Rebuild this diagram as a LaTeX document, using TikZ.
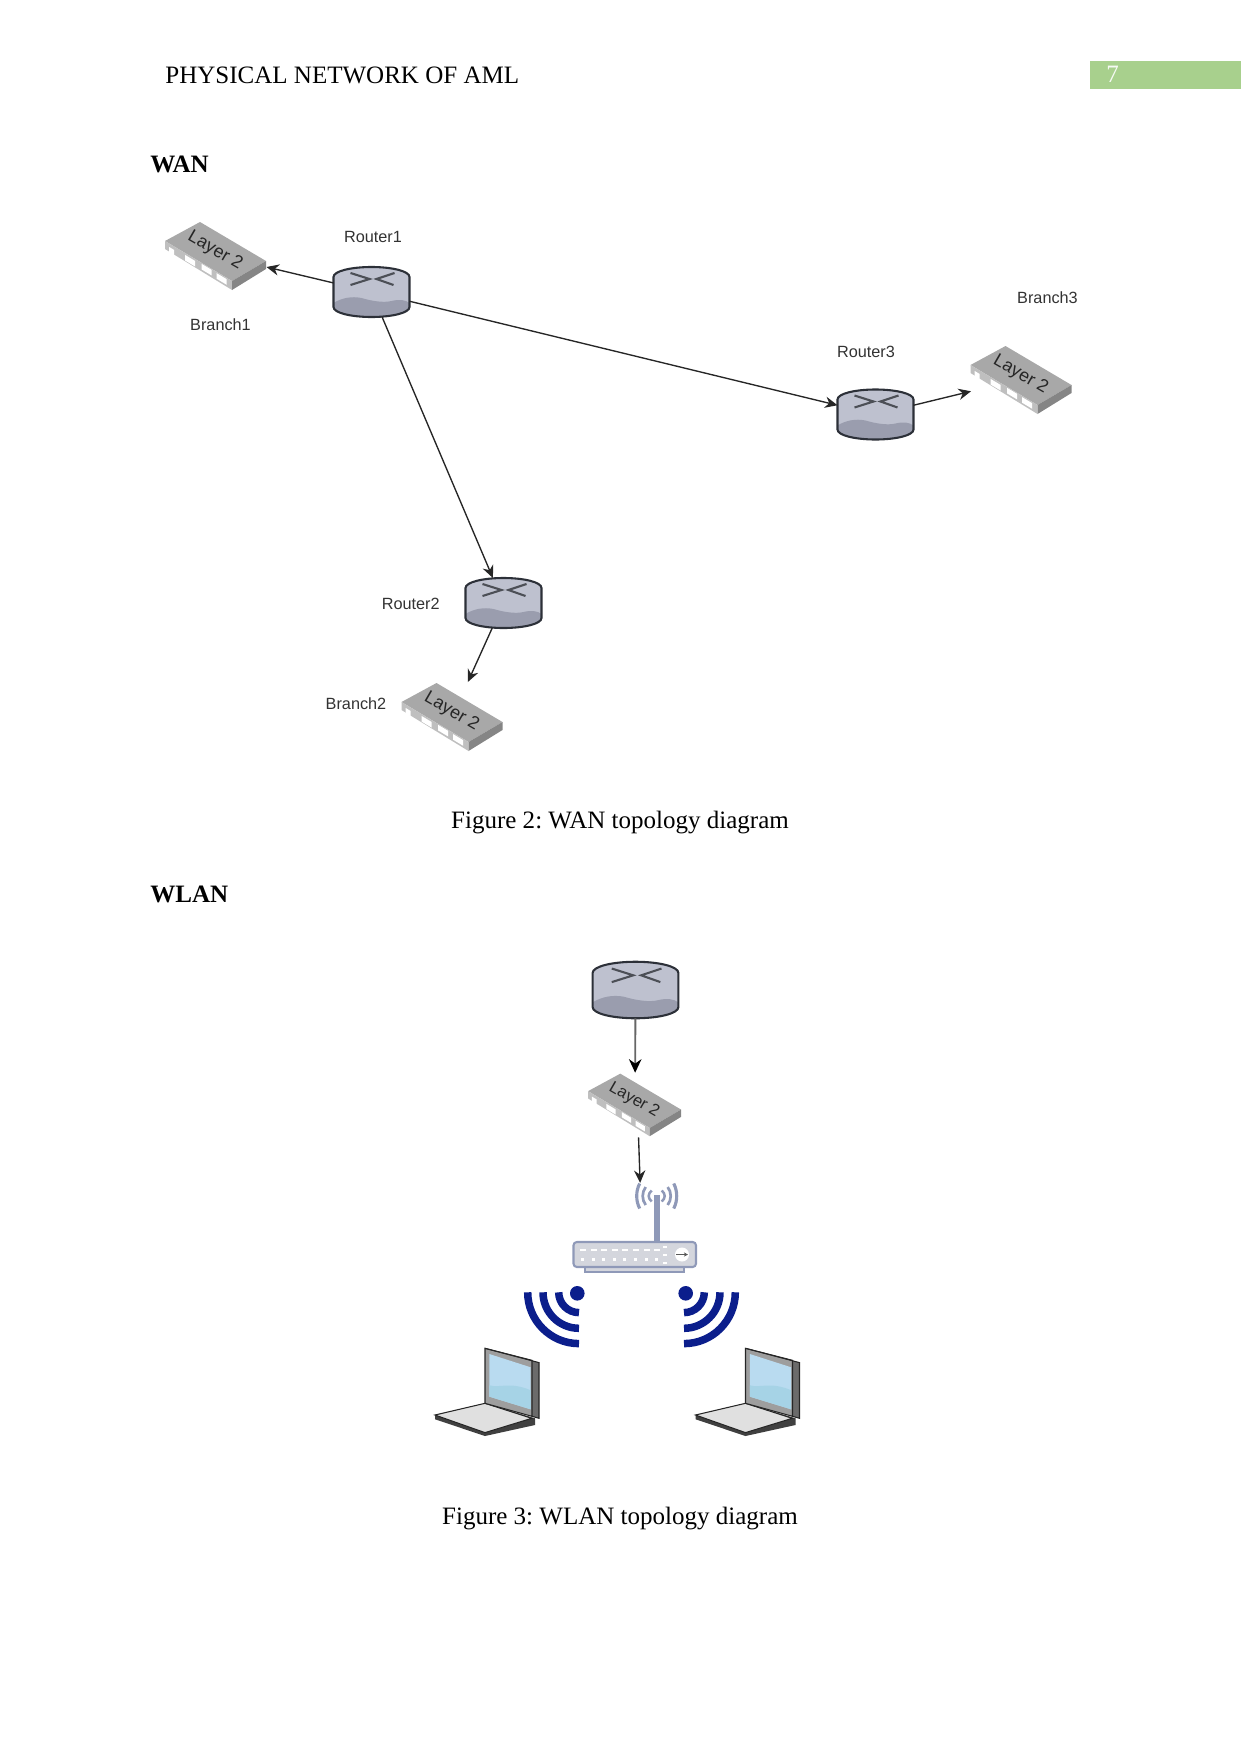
\documentclass[tikz,border=0pt]{standalone}
\usepackage{fontspec}
\usetikzlibrary{arrows.meta}
\setmainfont{Liberation Serif}
\newfontfamily\labelfont{Liberation Sans}
\frenchspacing
\definecolor{routerbody}{HTML}{BEC1CF}
\definecolor{routerbase}{HTML}{9A9DAE}
\definecolor{routerline}{HTML}{2C3038}
\definecolor{apline}{HTML}{8F99B8}
\definecolor{apfill}{HTML}{D4D6DD}
\definecolor{signal}{HTML}{0B1E8C}
\definecolor{pagegreen}{HTML}{A8D08D}
\definecolor{screenhi}{HTML}{B9DBF0}
\definecolor{screenlo}{HTML}{A6D3E6}
\tikzset{
  x=0.4797pt, y=-0.4797pt,
  iconbox/.style={inner sep=0pt, outer sep=0pt, minimum width=#1},
  routerbox/.style={iconbox=36.46pt, minimum height=24pt},
  bigrouterbox/.style={iconbox=41.25pt, minimum height=27.3pt},
  switchbox/.style={iconbox=48.45pt, minimum height=32.6pt},
  smallswitchbox/.style={iconbox=44.6pt, minimum height=30pt},
  link/.style={draw=black!85, line width=0.65pt, -{Stealth[length=6pt,width=5.4pt]}},
  devlabel/.style={font=\labelfont\fontsize{7.8}{9}\selectfont, text=black!80, inner sep=0pt},
  pagetext/.style={font=\fontsize{12}{14}\selectfont, inner sep=0pt},
  heading/.style={font=\bfseries\fontsize{12}{14}\selectfont, inner sep=0pt, anchor=base west},
  caption/.style={font=\fontsize{12}{14}\selectfont, inner sep=0pt, anchor=base},
  pics/routericon/.style={code={
    \fill[routerbody] (-38,-15) .. controls (-38,-21) and (-20,-25) .. (0,-25)
      .. controls (20,-25) and (38,-21) .. (38,-15) -- (38,15)
      .. controls (38,21) and (20,25) .. (0,25)
      .. controls (-20,25) and (-38,21) .. (-38,15) -- cycle;
    \fill[routerbase] (-38,11) .. controls (-30,6) and (-20,4) .. (-10,6)
      .. controls (0,9) and (12,11) .. (20,9) .. controls (28,7) and (34,8) .. (38,11)
      -- (38,15) .. controls (38,21) and (20,25) .. (0,25)
      .. controls (-20,25) and (-38,21) .. (-38,15) -- cycle;
    \draw[routerline, line width=1pt] (-38,-15) .. controls (-38,-21) and (-20,-25) .. (0,-25)
      .. controls (20,-25) and (38,-21) .. (38,-15) -- (38,15)
      .. controls (38,21) and (20,25) .. (0,25)
      .. controls (-20,25) and (-38,21) .. (-38,15) -- cycle;
    \draw[routerline!85, line width=1pt] (-21,-19) -- (-2,-13) -- (-21,-7);
    \draw[routerline!85, line width=1pt] (23,-19) -- (5,-13) -- (22,-7);
  }},
  pics/switchicon/.style={code={
    \fill[black!34] (-16,-33) -- (-51,-14) -- (16,26) -- (50,6) -- cycle;
    \fill[black!25] (-51,-14) -- (16,26) -- (16,35) -- (-51,-6) -- cycle;
    \fill[black!48] (16,26) -- (50,6) -- (50,14) -- (16,35) -- cycle;
    \foreach \px/\py/\pw in {-44.3/-3.7/2.5, -26/5.7/5, -9.3/14.7/5, 5.7/24/5} {
      \fill[white] (\px-\pw,\py-2.8-.6*\pw) -- (\px+\pw,\py-2.8+.6*\pw)
        -- (\px+\pw,\py+2.8+.6*\pw) -- (\px-\pw,\py+2.8-.6*\pw) -- cycle;
    }
    \node[font=\labelfont\fontsize{8.6}{9}\selectfont, text=black!85, rotate=-30, inner sep=0pt] at (-1,-4) {Layer 2};
  }},
  pics/laptopicon/.style={code={
    % base
    \fill[black!75] (-50,21.7) -- (0,10) -- (50,25) -- (50,31.7) -- (0,42.7) -- (-50,26) -- cycle;
    \fill[black!12, draw=black!85, line width=0.5pt] (-50,21.7) -- (0,10) -- (46.7,25) -- (0,39.3) -- cycle;
    % lid
    \fill[black!58] (38,-35) -- (54,-30.7) -- (54,25) -- (46,23) -- cycle;
    \fill[black!38, draw=black!85, line width=0.5pt] (0,-45) -- (47,-33) -- (47,23) -- (0,10) -- cycle;
    \draw[black!85, line width=0.5pt] (0,-45) -- (54,-30.7) -- (54,25) -- (47,23);
    % screen
    \fill[screenhi] (4.3,-39.3) -- (45.7,-26) -- (45.7,16) -- (4.3,3.3) -- cycle;
    \fill[screenlo] (4.3,-8) .. controls (15,-5) and (25,-12) .. (45.7,-3)
      -- (45.7,16) -- (4.3,3.3) -- cycle;
  }},
  pics/signalicon/.style={code={
    \fill[signal] (-1.7,1) circle[radius=7.3];
    \foreach \r in {20.3,36,51.3} {
      \pgfmathsetmacro\k{0.5523*\r}
      \draw[signal, line width=3.6pt] (-\r,0) .. controls (-\r,\k) and (-\k,\r) .. (0,\r);
    }
  }},
}
\begin{document}
\begin{tikzpicture}
\useasboundingbox (0,0) rectangle (1241,1754);

% running head
\fill[pagegreen] (1090,61) rectangle (1241,89);
\node[pagetext, anchor=base west, text=white!90!pagegreen] (pagenum) at (1106,83) {7};
\node[pagetext, anchor=base west] (runhead) at (165,84) {PHYSICAL NETWORK OF AML};

% WAN section
\node[heading] (wanhead) at (150,173) {WAN};

\node[routerbox] (r1) at (371.5,292) {};
\node[routerbox] (r2) at (503.5,603) {};
\node[routerbox] (r3) at (875.5,414.5) {};
\node[switchbox] (s1) at (216,255) {};
\node[switchbox] (s2) at (452.5,716) {};
\node[switchbox] (s3) at (1021.5,379) {};

\foreach \n in {r1,r2,r3} \pic at (\n) {routericon};
\foreach \n in {s1,s2,s3} \pic at (\n) {switchicon};

\draw[link] (r1) -- (s1);
\draw[link] (r1) -- (r3);
\draw[link] (r1) -- (r2);
\draw[link] (r2) -- (s2);
\draw[link] (r3) -- (s3);

\node[devlabel] (lr1) at (373,237) {Router1};
\node[devlabel] (lb1) at (220.5,325) {Branch1};
\node[devlabel] (lr3) at (866,351.5) {Router3};
\node[devlabel] (lb3) at (1047.5,297.6) {Branch3};
\node[devlabel] (lr2) at (410.7,604) {Router2};
\node[devlabel] (lb2) at (356,704) {Branch2};

\node[caption] (cap2) at (620,828) {Figure 2: WAN topology diagram};

% WLAN section
\node[heading] (wlanhead) at (150,902) {WLAN};

\node[bigrouterbox] (r4) at (635.5,990) {};
\node[smallswitchbox] (s4) at (635,1104) {};
\node[iconbox=59pt, minimum height=41.3pt] (ap) at (634.5,1226) {};

\pic[scale=1.13, transform shape] at (r4) {routericon};
\pic[scale=0.92, transform shape] at (s4) {switchicon};

% access point
\foreach \r/\h/\a in {8/5.5/1.2, 14/9/1.3, 20/12.5/1.5} {
  \draw[apline, line width=\a pt] (656.7-\r+3,1196-\h) .. controls (656.7-\r-1,1196-\h*.4) and (656.7-\r-1,1196+\h*.4) .. (656.7-\r+3,1196+\h);
  \draw[apline, line width=\a pt] (656.7+\r-3,1196-\h) .. controls (656.7+\r+1,1196-\h*.4) and (656.7+\r+1,1196+\h*.4) .. (656.7+\r-3,1196+\h);
}
\draw[apline, line width=2.6pt] (657,1195) -- (657,1242);
\fill[apfill, draw=apline, line width=0.7pt] (585,1267) rectangle (684,1272);
\fill[apfill, draw=apline, line width=1pt, rounded corners=1.6pt] (573.5,1242) rectangle (696,1267);
\foreach \i in {0,...,7} {
  \fill[white] (580+\i*10.6,1249) rectangle (586+\i*10.6,1251);
  \fill[white] (581+\i*10.6,1258) rectangle (584+\i*10.6,1260.5);
}
\foreach \yy in {1247,1254.5,1263} \fill[white] (663,\yy-1) rectangle (667,\yy+1);
\fill[white] (682,1254.5) circle[radius=7];
\draw[black!65, line width=0.5pt, -{Stealth[length=2pt,width=2pt]}] (676,1254.5) -- (688,1254.5);

\draw[link, draw=black!60, line width=0.9pt, {-{Stealth[length=6.5pt,width=6pt,black]}}] (r4) -- (s4);
\draw[link] ([xshift=1.7pt,yshift=-1pt]s4.south) -- ([xshift=2.7pt]ap.north);

% wireless signals and laptops
\coordinate (sigl) at (579,1292.3);
\coordinate (sigr) at (684,1292.3);
\pic at (sigl) {signalicon};
\pic[xscale=-1] at (sigr) {signalicon};
\node[iconbox=50pt, minimum height=42pt] (lap1) at (485,1393.3) {};
\node[iconbox=50pt, minimum height=42pt] (lap2) at (745.5,1393.3) {};
\pic at (lap1) {laptopicon};
\pic at (lap2) {laptopicon};

\node[caption] (cap3) at (620,1524) {Figure 3: WLAN topology diagram};
\end{tikzpicture}
\end{document}
